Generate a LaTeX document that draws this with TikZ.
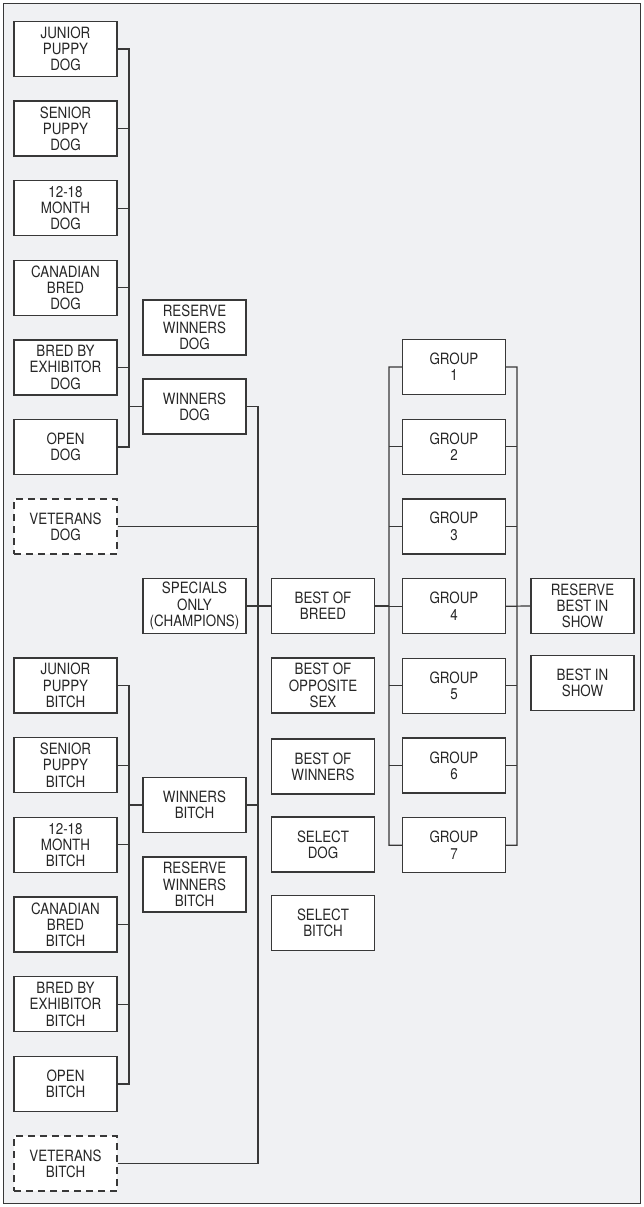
\documentclass[tikz,border=0pt]{standalone}
\usepackage{fontspec}
\setmainfont{TeX Gyre Heros}[FakeStretch=0.86]
\usepackage{tikz}
\definecolor{panel}{HTML}{F0F1F3}
\definecolor{ink}{HTML}{383838}
\tikzset{
  entry/.style={draw=ink, fill=white, line width=1.3bp, minimum width=103bp,
    minimum height=55bp, inner sep=1bp, align=center, text=black!85,
    font=\fontsize{15.6}{16.3}\selectfont},
  optional/.style={entry, dashed, dash pattern=on 7bp off 5bp},
  link/.style={draw=ink, line width=1.1bp}
}

\begin{document}
\begin{tikzpicture}[x=1bp, y=-1bp]
    \useasboundingbox (0,0) rectangle (644,1207);
    \draw[ink, fill=panel, line width=1.1bp] (3.5,3.5) rectangle (640.5,1203.5);
    % dog classes
    \node[entry] (jpd) at (65.5, 49) {JUNIOR\\PUPPY\\DOG};
    \node[entry] (spd) at (65.5, 128.6) {SENIOR\\PUPPY\\DOG};
    \node[entry] (mod) at (65.5, 208.2) {12-18\\MONTH\\DOG};
    \node[entry] (cbd) at (65.5, 287.8) {CANADIAN\\BRED\\DOG};
    \node[entry] (bed) at (65.5, 367.4) {BRED BY\\EXHIBITOR\\DOG};
    \node[entry] (opd) at (65.5, 447) {OPEN\\DOG};
    \node[optional] (vd) at (65.5, 526.6) {VETERANS\\DOG};
    % bitch classes
    \node[entry] (jpb) at (65.5, 685.5) {JUNIOR\\PUPPY\\BITCH};
    \node[entry] (spb) at (65.5, 765.2) {SENIOR\\PUPPY\\BITCH};
    \node[entry] (mob) at (65.5, 844.9) {12-18\\MONTH\\BITCH};
    \node[entry] (cbb) at (65.5, 924.6) {CANADIAN\\BRED\\BITCH};
    \node[entry] (beb) at (65.5, 1004.3) {BRED BY\\EXHIBITOR\\BITCH};
    \node[entry] (opb) at (65.5, 1084) {OPEN\\BITCH};
    \node[optional] (vb) at (65.5, 1163.5) {VETERANS\\BITCH};
    % winners
    \node[entry] (rwd) at (194.5, 327.5) {RESERVE\\WINNERS\\DOG};
    \node[entry] (wd) at (194.5, 406.5) {WINNERS\\DOG};
    \node[entry] (sp) at (194.5, 606) {SPECIALS\\ONLY\\(CHAMPIONS)};
    \node[entry] (wb) at (194.5, 805) {WINNERS\\BITCH};
    \node[entry] (rwb) at (194.5, 884.5) {RESERVE\\WINNERS\\BITCH};
    % breed awards
    \node[entry] (bob) at (323, 606) {BEST OF\\BREED};
    \node[entry] (bos) at (323, 685.5) {BEST OF\\OPPOSITE\\SEX};
    \node[entry] (bow) at (323, 766.5) {BEST OF\\WINNERS};
    \node[entry] (sd) at (323, 844.5) {SELECT\\DOG};
    \node[entry] (sb) at (323, 923) {SELECT\\BITCH};
    % groups
    \foreach \i in {1,...,7}
      \node[entry] (g\i) at (454, 367+79.7*\i-79.7) {GROUP\\\i};
    \node[entry] (rbis) at (582.5, 606) {RESERVE\\BEST IN\\SHOW};
    \node[entry] (bis) at (582.5, 683) {BEST IN\\SHOW};

    % buses
    \coordinate (dtop) at (129, 49);
    \coordinate (dbot) at (129, 447);
    \coordinate (btop) at (129, 685.5);
    \coordinate (bbot) at (129, 1084);
    \coordinate (mtop) at (258, 406.5);
    \coordinate (mbot) at (258, 1163.5);
    \coordinate (gltop) at (389, 367);
    \coordinate (glbot) at (389, 845.2);
    \coordinate (grtop) at (517, 367);
    \coordinate (grbot) at (517, 845.2);

    \draw[link] (jpd.east) -- (dtop) -- (dbot) -- (opd.east);
    \foreach \n in {spd,mod,cbd,bed}
      \draw[link] (\n.east) -- (\n.east -| dtop);
    \draw[link] (wd.west) -- (wd.west -| dtop);

    \draw[link] (jpb.east) -- (btop) -- (bbot) -- (opb.east);
    \foreach \n in {spb,mob,cbb,beb}
      \draw[link] (\n.east) -- (\n.east -| btop);
    \draw[link] (wb.west) -- (wb.west -| btop);

    \draw[link] (wd.east) -- (mtop) -- (mbot) -- (vb.east);
    \draw[link] (vd.east) -- (vd.east -| mtop);
    \draw[link] (wb.east) -- (wb.east -| mtop);
    \draw[link] (sp.east) -- (bob.west);

    \draw[link] (g1.west) -- (gltop) -- (glbot) -- (g7.west);
    \draw[link] (g1.east) -- (grtop) -- (grbot) -- (g7.east);
    \foreach \i in {2,...,6} {
      \draw[link] (g\i.west) -- (g\i.west -| gltop);
      \draw[link] (g\i.east) -- (g\i.east -| grtop);
    }
    \draw[link] (bob.east) -- (bob.east -| gltop);
    \draw[link] (g4.east) -- (rbis.west);
\end{tikzpicture}
\end{document}
